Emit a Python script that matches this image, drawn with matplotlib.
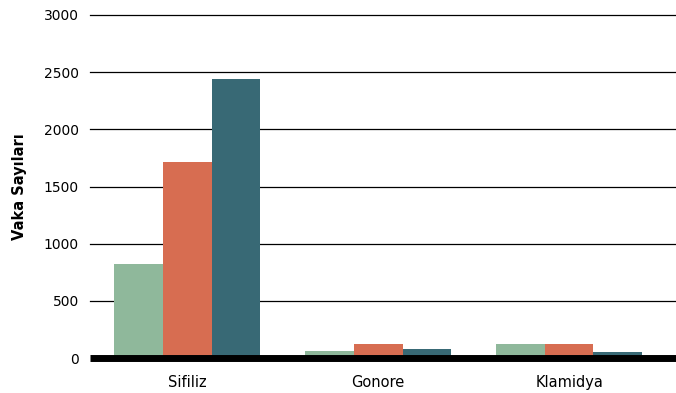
import matplotlib
matplotlib.use("Agg")
import matplotlib.pyplot as plt
import numpy as np

# data
categories = ["Sifiliz", "Gonore", "Klamidya"]
series_a = [822, 61, 122]     # green
series_b = [1715, 122, 122]   # orange
series_c = [2440, 79, 52]     # teal
colors = ["#8fb89b", "#d76d51", "#386975"]
yticks = [0, 500, 1000, 1500, 2000, 2500, 3000]

plt.rcParams['font.family'] = ['DejaVu Sans']

fig = plt.figure(figsize=(6.76, 3.93), dpi=100)
ax = fig.add_axes([90/676, 1-358/393, 1-90/676, (358-15)/393])

x = np.arange(len(categories))
w = 0.255
for i, (vals, c) in enumerate(zip([series_a, series_b, series_c], colors)):
    ax.bar(x + (i-1)*w, vals, width=w, color=c, zorder=2)

ax.set_ylim(0, 3000)
ax.set_xlim(-0.51, 2.56)
ax.set_yticks(yticks)
ax.set_yticklabels([str(v) for v in yticks], fontsize=10)
ax.set_xticks(x)
ax.set_xticklabels(categories, fontsize=10.5)
ax.tick_params(axis='y', length=0, pad=8)
ax.tick_params(axis='x', length=0, pad=12)

for v in yticks[1:]:
    ax.axhline(v, color='black', lw=0.9, zorder=1, clip_on=False)

for s in ['top', 'right', 'left']:
    ax.spines[s].set_visible(False)
ax.spines['bottom'].set_linewidth(5)
ax.spines['bottom'].set_capstyle('butt')
ax.spines['bottom'].set_zorder(3)

ax.set_ylabel("Vaka Sayıları", fontsize=10.5, fontweight='bold', labelpad=12)

fig.savefig("out.png", dpi=100)
